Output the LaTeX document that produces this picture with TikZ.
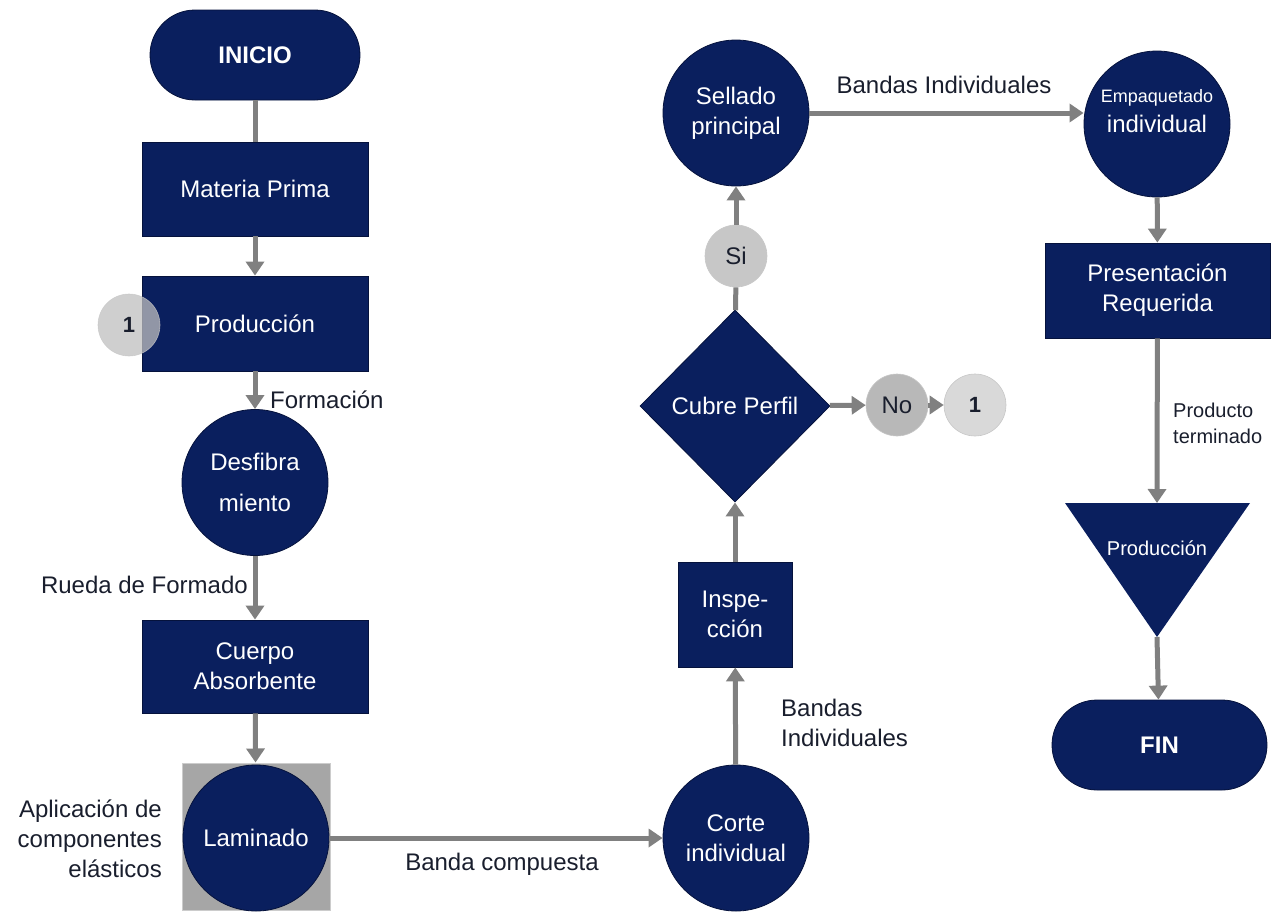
\documentclass[tikz,border=0pt]{standalone}
\usepackage{fontspec}
\setmainfont{Liberation Sans}
\usetikzlibrary{shapes.geometric,arrows.meta}
\definecolor{navy}{RGB}{10,31,94}
\definecolor{navyedge}{RGB}{5,18,60}
\definecolor{linkgray}{RGB}{128,128,128}
\definecolor{labelink}{RGB}{25,30,45}
\begin{document}
\begin{tikzpicture}[x=1pt,y=-1pt,
  base/.style={font=\fontsize{24}{30}\selectfont, text=white, align=center, inner sep=0pt},
  flowbox/.style={base, rectangle, fill=navy, draw=navyedge, line width=0.8pt,
    minimum width=226pt, minimum height=94pt},
  flowcirc/.style={base, circle, fill=navy, draw=navyedge, line width=0.8pt, minimum size=146pt},
  term/.style={base, font=\bfseries\fontsize{24}{30}\selectfont, rectangle, rounded corners=45pt,
    fill=navy, draw=navyedge, line width=0.8pt, minimum width=210pt, minimum height=90pt},
  tag/.style={circle, minimum size=62pt, inner sep=0pt, font=\fontsize{24}{30}\selectfont,
    text=labelink, draw=black!22, line width=0.6pt},
  conn/.style={draw=linkgray, line width=5pt, -{Triangle[length=14pt,width=18pt]}},
  plain/.style={draw=linkgray, line width=5pt},
  lbl/.style={font=\fontsize{24}{30}\selectfont, text=labelink, inner sep=0pt}
]
\useasboundingbox (0,0) rectangle (1275,914);

% left column
\node[term] (ini) at (255,55) {INICIO};
\node[flowbox] (mat) at (255,189) {Materia Prima};
\node[flowbox, minimum height=95pt] (prod) at (255,323.5) {Producción};
\node[tag, fill=black!25, fill opacity=0.75, draw opacity=0.75, text opacity=1,
  font=\bfseries\fontsize{22}{26}\selectfont] (backref) at (129,325) {1};
\node[flowcirc] (desf) at (255,482.5) {Desfibra\\[11pt]miento};
\node[flowbox, minimum height=93pt] (cuer) at (255,666.5) {Cuerpo\\Absorbente};
\node[rectangle, fill=black!35, draw=black!20, line width=1pt,
  minimum width=148pt, minimum height=147pt] (lamsq) at (256,836.5) {};
\node[flowcirc] (lam) at (256,838) {Laminado};

% middle column
\node[flowcirc] (corte) at (736,838) {Corte\\individual};
\node[flowbox, minimum width=114pt, minimum height=105pt] (insp) at (735,614.5) {Inspe-\\cción};
\node[base, diamond, aspect=1, fill=navy, draw=navyedge, line width=0.8pt,
  minimum width=190pt, minimum height=192pt] (dec) at (735,406) {Cubre Perfil};
\node[tag, fill=black!28] (no) at (897,405) {No};
\node[tag, fill=black!15, font=\bfseries\fontsize{22}{26}\selectfont] (one) at (975,405) {1};
\node[tag, fill=black!22] (si) at (736,256) {Si};
\node[flowcirc] (sell) at (736,113) {Sellado\\principal};

% right column
\node[flowcirc] (emp) at (1157,124) {};
\node[base] (emptxt) at (1157,111) {{\fontsize{18}{22}\selectfont Empaquetado}\\[0pt]individual};
\node[flowbox, minimum width=225pt, minimum height=95pt] (pres) at (1157.5,290.5) {Presentación\\Requerida};
\fill[navy] (1065,503) -- (1250,503) -- (1157,637) -- cycle;
\coordinate (tritop) at (1157,503);
\coordinate (triapex) at (1157,637);
\node[base, font=\fontsize{20}{24}\selectfont] (trilbl) at (1157,548) {Producción};
\node[term, minimum width=215pt] (fin) at (1159.5,745) {FIN};

% connectors
\draw[plain] (ini) -- (mat);
\draw[conn] (mat) -- (prod);
\draw[conn] (prod) -- (desf);
\draw[conn] (desf) -- (cuer);
\draw[conn] (cuer) -- (lamsq);
\draw[conn] (lam) -- (corte);
\draw[conn] (corte) -- (insp);
\draw[conn] (insp) -- (dec);
\draw[plain] (dec) -- (si);
\draw[conn] (si) -- (sell);
\draw[conn] (dec) -- (no);
\draw[conn] (no) -- (one);
\draw[conn] (sell.east) -- (sell.east -| emp.west);
\draw[conn] (emp) -- (pres);
\draw[conn] (pres) -- (tritop);
\draw[conn] (triapex) -- (fin);

% connector labels
\node[lbl, anchor=west] (lform) at (270,400) {Formación};
\node[lbl, anchor=east] (lrueda) at (248,585) {Rueda de Formado};
\node[lbl, anchor=east, align=right] (lapl) at (162,839) {Aplicación de\\componentes\\elásticos};
\node[lbl] (lband) at (502,864) {Banda compuesta};
\node[lbl, anchor=west, align=left] (lbind) at (781,723) {Bandas\\Individuales};
\node[lbl] (lbsel) at (944,85) {Bandas Individuales};
\node[lbl, anchor=west, align=left, font=\fontsize{20}{26}\selectfont] (lprod) at (1173,423) {Producto\\terminado};
\end{tikzpicture}
\end{document}
